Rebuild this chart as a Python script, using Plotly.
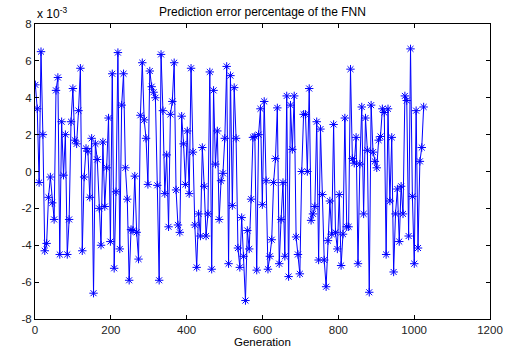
import numpy as np
import plotly.graph_objects as go

# Prediction error (units of 1e-3), read in generation order
error = [
    4.7, 3.4, -0.6, 6.5, 2.0, -4.3, -3.9, -1.4, -0.3, -1.7, -2.6, 4.4, 5.1, -4.5, 2.7, -0.2, 2.0, -4.5,
    -2.6, 2.7, 4.5, 1.7, 1.5, 3.3, 5.6, -4.3, -0.3, 1.25, 1.1, -1.4, 1.8, -6.6, 1.5, 0.65, -2.0, -4.0,
    1.6, -1.9, 0.2, 2.9, -3.8, 5.3, -5.25, -1.1, 6.45, -4.2, 3.6, 5.3, 0.2, -1.5, -5.9, -3.15, -3.2,
    -0.25, -3.3, -4.75, 3.05, 5.9, 2.8, 1.8, -0.7, 5.45, 4.6, 4.3, 4.0, -0.75, -5.9, 6.35, 3.3,
    -1.2, 0.9, -3.0, 3.1, 3.8, 5.9, -1.0, -2.9, -3.3, 3.0, 1.5, -0.7, 2.2, -1.2, 5.6, 1.05, -2.9, -5.2,
    -2.3, -3.5, 1.3, -0.8, -3.5, -2.3, 5.4, -5.3, 4.4, 0.4, 2.2, -2.6, -0.5, -0.1, 1.8, 5.7,
    -5.0, 5.2, -1.85, 4.55, 1.8, -4.15, -5.2, -2.5, -4.6, -7.0, -3.2, -4.2, -1.5, 1.85, 1.9, -5.35, 2.0,
    3.4, -1.8, 3.8, -0.5, -5.3, -4.6, -3.7, -0.6, 0.7, 3.45, -5.0, -2.6, -0.6, -4.6, 4.1, -5.7, 3.6, 1.2,
    4.1, -3.55, -4.5, -5.55, 0.0, 3.1, 3.1, 0.0, 4.5, -2.65, -2.3, -1.9, 2.7, -4.8, 2.3, -1.25, -4.8,
    -6.25, -3.75, -1.6, -3.4, 2.55, -3.3, -4.2, -1.25, -5.1, -3.4, 2.9, -3.0, -3.0, 5.55, 0.7, 0.45, 1.85, -5.0,
    0.4, 3.5, -2.3, 2.9, 1.15, -6.55, 3.6, 1.05, 0.55, 0.2, 1.7, 1.9, 3.4, 3.2, -4.5, 3.4, -1.6, 1.85,
    -5.45, -2.3, -0.95, -3.8, -0.8, -2.3, 4.1, 3.85, -3.5, 6.65, -1.35, -5.0, 3.3, -4.15, 0.55, 1.3, 3.5,
]
first_generation = 1
last_generation = 1025
generation = np.linspace(first_generation, last_generation, len(error))

x_ticks = [0, 200, 400, 600, 800, 1000, 1200]
y_ticks = [-8, -6, -4, -2, 0, 2, 4, 6, 8]
y_tick_labels = ["-8", "-6", "-4", "-2", "0", "2", "4", "6", "8"]

title_text = "Prediction error percentage of the FNN"
x_label = "Generation"
exponent_text = "x 10<sup>-3</sup>"

font_family = "Arial, Liberation Sans, Helvetica, sans-serif"

fig = go.Figure()
fig.add_trace(go.Scatter(
    x=generation, y=error, mode="lines+markers",
    line=dict(color="#0000FF", width=1),
    marker=dict(symbol="asterisk-open", size=7, color="#0000FF",
                line=dict(color="#0000FF", width=1)),
    showlegend=False,
))

axis_common = dict(
    showline=True, linecolor="black", linewidth=1, mirror="ticks",
    ticks="inside", ticklen=4, tickcolor="black", tickwidth=1,
    showgrid=False, zeroline=False, automargin=False,
    tickfont=dict(family=font_family, size=11.5, color="#222222"),
)

fig.update_layout(
    width=505, height=349,
    margin=dict(l=35, r=15, t=24, b=30),
    paper_bgcolor="white", plot_bgcolor="white",
    font=dict(family=font_family, size=12, color="black"),
    title=dict(text=title_text, x=0.5, xref="paper", xanchor="center",
               y=1 - 12/349, yanchor="middle",
               font=dict(family=font_family, size=12, color="black")),
    xaxis=dict(range=[0, 1200], tickvals=x_ticks, ticktext=[str(v) for v in x_ticks],
               ticklabelstandoff=0, **axis_common),
    yaxis=dict(range=[-8, 8], tickvals=y_ticks, ticktext=y_tick_labels, **axis_common),
)

fig.add_annotation(
    text=x_label, xref="paper", yref="paper", x=0.5, y=0,
    xanchor="center", yanchor="top", showarrow=False, yshift=-16, borderpad=0,
    font=dict(family=font_family, size=11.5, color="black"),
)

fig.add_annotation(
    text=exponent_text, xref="paper", yref="paper", x=0, y=1,
    xanchor="left", yanchor="bottom", showarrow=False, yshift=1,
    font=dict(family=font_family, size=12, color="black"),
)

fig.write_html("out.html")
